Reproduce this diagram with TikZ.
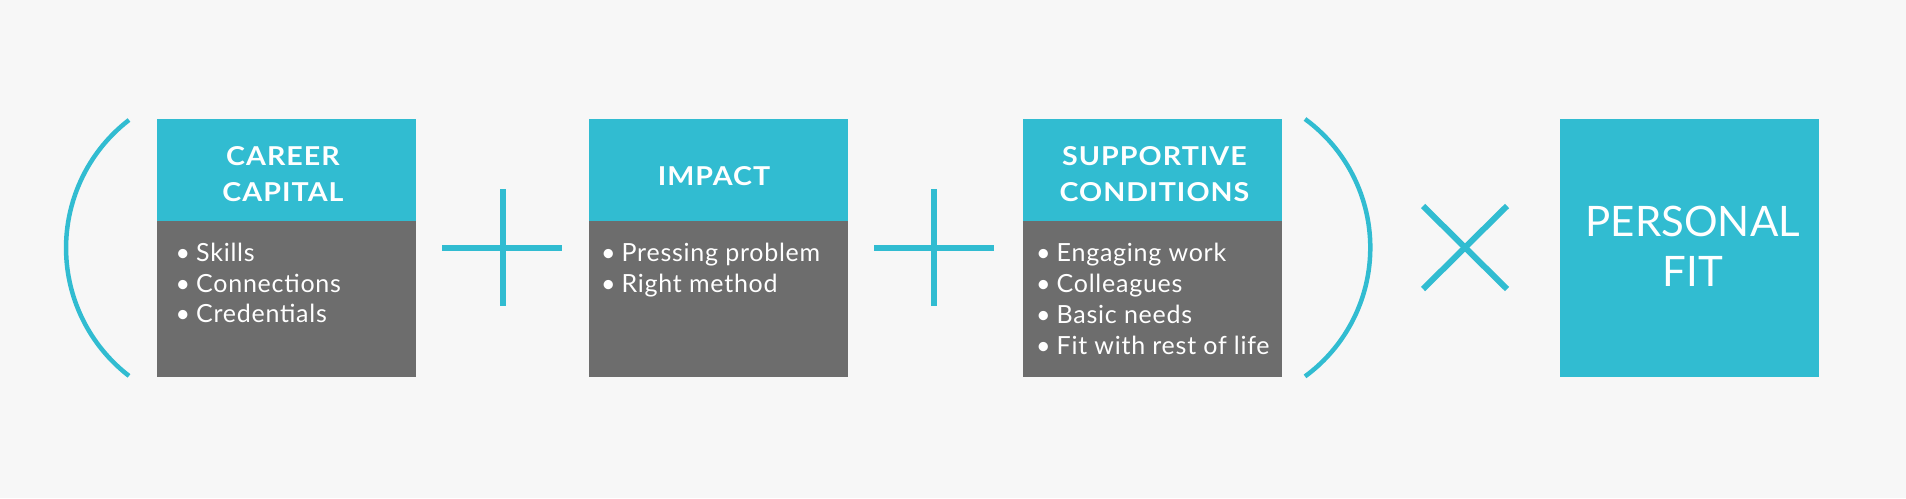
\documentclass[tikz,border=0pt]{standalone}
\usepackage{fontspec}
\setmainfont{Lato}
\newfontfamily\hdrfont[FakeStretch=1.1,LetterSpace=4]{Lato}
\newfontfamily\itemfont[LetterSpace=3]{Lato}
\definecolor{cteal}{RGB}{49,188,209}
\definecolor{cgray}{RGB}{109,109,109}
\definecolor{cbg}{RGB}{247,247,247}
\newcommand{\bul}{\makebox[20.5pt][l]{\textbullet}}
\begin{document}
\begin{tikzpicture}[x=1pt,y=-1pt,
  hdr/.style={fill=cteal, draw=none, anchor=north west, minimum width=258.5pt, minimum height=102pt, inner sep=0pt, outer sep=0pt},
  bodybox/.style={fill=cgray, draw=none, anchor=north west, minimum width=258.5pt, minimum height=156pt, inner sep=0pt, outer sep=0pt},
  bigbox/.style={fill=cteal, draw=none, anchor=north west, minimum width=259pt, minimum height=258pt, inner sep=0pt, outer sep=0pt},
  htext/.style={text=white, font=\hdrfont\fontsize{26}{30}\selectfont\bfseries, anchor=base, inner sep=0pt},
  ftext/.style={text=white, font=\fontsize{42}{50}\selectfont, anchor=base, inner sep=0pt},
  item/.style={text=white, font=\itemfont\fontsize{25}{30}\selectfont, anchor=base west, inner sep=0pt},
  sym/.style={draw=cteal, line width=6pt},
  paren/.style={draw=cteal, line width=4.5pt}]
\fill[cbg] (0,0) rectangle (1906,498);
\useasboundingbox (0,0) rectangle (1906,498);

% boxes
\node[hdr] (h1) at (157,119) {};
\node[bodybox] (b1) at (157,221) {};
\node[hdr] (h2) at (589,119) {};
\node[bodybox] (b2) at (589,221) {};
\node[hdr] (h3) at (1023,119) {};
\node[bodybox] (b3) at (1023,221) {};
\node[bigbox] (pf) at (1560,119) {};

% header texts
\node[htext] (t1a) at (283,165) {CAREER};
\node[htext] (t1b) at (283,201.7) {CAPITAL};
\node[htext] (t2a) at (714,185) {IMPACT};
\node[htext] (t3a) at (1154.5,165) {SUPPORTIVE};
\node[htext] (t3b) at (1154.5,201.7) {CONDITIONS};
\node[ftext] (pfa) at (1692.8,236.7) {PERSONAL};
\node[ftext] (pfb) at (1693,286.7) {FIT};

% bullet items
\node[item] (i1a) at (175.5,261.7) {\bul Skills};
\node[item] (i1b) at (175.5,292.2) {\bul Connections};
\node[item] (i1c) at (175.5,322.7) {\bul Credentials};
\node[item] (i2a) at (601,261.7) {\bul Pressing problem};
\node[item] (i2b) at (601,292.3) {\bul Right method};
\node[item] (i3a) at (1036,261.7) {\bul Engaging work};
\node[item] (i3b) at (1036,292.5) {\bul Colleagues};
\node[item] (i3c) at (1036,323.3) {\bul Basic needs};
\node[item] (i3d) at (1036,354.1) {\bul Fit with rest of life};

% parentheses
\draw[paren] (129,120) arc[start angle=127.6, end angle=232.4, radius=161.5pt];
\draw[paren] (1305,119) arc[start angle=53.8, end angle=-53.8, radius=159.5pt];

% plus signs
\coordinate (p1l) at (442.3,248); \coordinate (p1r) at (561.7,248);
\coordinate (p1t) at (503,189); \coordinate (p1b) at (503,305.7);
\draw[sym] (p1l) -- (p1r); \draw[sym] (p1t) -- (p1b);
\coordinate (p2l) at (874.3,248); \coordinate (p2r) at (993.7,248);
\coordinate (p2t) at (933.7,189); \coordinate (p2b) at (933.7,305.7);
\draw[sym] (p2l) -- (p2r); \draw[sym] (p2t) -- (p2b);

% times sign
\coordinate (x1) at (1423,206); \coordinate (x2) at (1507,289);
\coordinate (x3) at (1423,289); \coordinate (x4) at (1507,206);
\draw[sym] (x1) -- (x2); \draw[sym] (x3) -- (x4);
\end{tikzpicture}
\end{document}
